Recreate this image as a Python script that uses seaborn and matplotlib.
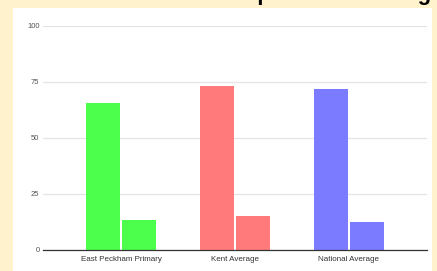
import matplotlib
matplotlib.use('Agg')
import matplotlib.pyplot as plt
import seaborn as sns
import pandas as pd
from matplotlib.patches import Rectangle

# data
categories = ['East Peckham Primary', 'Kent Average', 'National Average']
expected = [65.5, 73.2, 72.0]
greater_depth = [13.5, 15.0, 12.7]
series_names = ['Expected', 'Greater depth']
group_colors = ['#4dff4d', '#ff7b7b', '#7b7bff']
y_ticks = [0, 25, 50, 75, 100]
title = 'Attainment Comparison Reading'

df = pd.DataFrame({
    'category': categories * 2,
    'series': [series_names[0]] * 3 + [series_names[1]] * 3,
    'value': expected + greater_depth,
})

sns.set_theme(style='white')
plt.rcParams['font.family'] = ['Liberation Sans', 'DejaVu Sans']

fig = plt.figure(figsize=(4.37, 2.71), dpi=100, facecolor='#fff2cc')

# white card behind the chart
fig.patches.append(Rectangle((13 / 437, 0), (432 - 13) / 437, (271 - 8) / 271,
                             transform=fig.transFigure, facecolor='white',
                             edgecolor='none', zorder=0))

# title sits mostly above the crop, only descenders show
fig.text(0.986, 1.0, title, ha='right', va='baseline', fontsize=16,
         fontweight='bold', color='black')

ax = fig.add_axes([43 / 437, 21 / 271, (427 - 43) / 437, (250 - 26) / 271])
ax.set_facecolor('none')
ax.set_zorder(2)

sns.barplot(data=df, x='category', y='value', hue='series', ax=ax,
            width=0.63, gap=0.05, legend=False, saturation=1)

# both bars in a group share the group's colour
n = len(categories)
for i, bar in enumerate(ax.patches[:2 * n]):
    bar.set_facecolor(group_colors[i % n])
    bar.set_edgecolor('none')

ax.set_ylim(0, 100)
ax.set_xlim(-0.69, 2.69)
ax.set_yticks(y_ticks)
ax.set_yticklabels([str(t) for t in y_ticks])
ax.yaxis.grid(True, color='#e4e4e4', linewidth=0.9)
ax.set_axisbelow(True)
ax.set_xlabel('')
ax.set_ylabel('')

for side in ['top', 'right', 'left']:
    ax.spines[side].set_visible(False)
ax.spines['bottom'].set_color('#333333')
ax.spines['bottom'].set_linewidth(0.9)

ax.tick_params(axis='y', length=0, pad=2.5, labelsize=5.5, labelcolor='#555555')
ax.tick_params(axis='x', length=0, pad=4, labelsize=5.8, labelcolor='#333333')

fig.savefig('out.png', dpi=100, facecolor=fig.get_facecolor())
